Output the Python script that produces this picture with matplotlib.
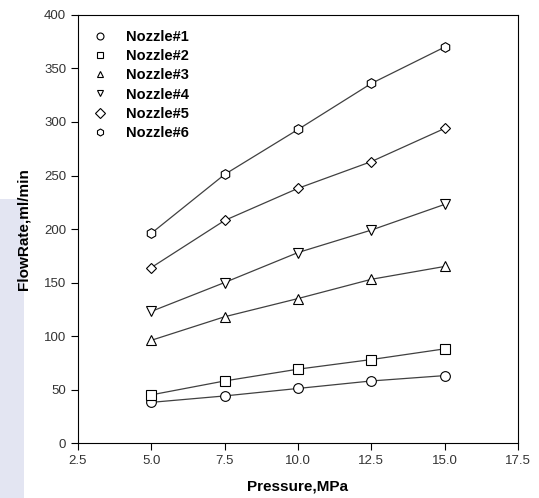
import matplotlib
matplotlib.use('Agg')
import matplotlib.pyplot as plt
from matplotlib.patches import Rectangle

plt.rcParams['font.family'] = ['Liberation Sans', 'DejaVu Sans']

# data
pressure = [5.0, 7.5, 10.0, 12.5, 15.0]
nozzle1 = [38, 44, 51, 58, 63]
nozzle2 = [45, 58, 69, 78, 88]
nozzle3 = [96, 118, 135, 153, 165]
nozzle4 = [123, 150, 178, 199, 223]
nozzle5 = [164, 208, 238, 263, 294]
nozzle6 = [196, 251, 293, 336, 370]
labels = ['Nozzle#1', 'Nozzle#2', 'Nozzle#3', 'Nozzle#4', 'Nozzle#5', 'Nozzle#6']
markers = ['o', 's', '^', 'v', 'D', 'h']
xticks = [2.5, 5.0, 7.5, 10.0, 12.5, 15.0, 17.5]
yticks = [0, 50, 100, 150, 200, 250, 300, 350, 400]

fig = plt.figure(figsize=(5.39, 4.98), dpi=100)

# faint watermark strip on the left edge
fig.patches.append(Rectangle((0, 0), 0.045, 0.6, transform=fig.transFigure,
                             facecolor='#e3e5f2', edgecolor='none', zorder=-1))

ax = fig.add_axes([0.1447, 0.1104, 0.8163, 0.8595])
ax.patch.set_alpha(0)

series = [nozzle1, nozzle2, nozzle3, nozzle4, nozzle5, nozzle6]
for ys, lab, m in zip(series, labels, markers):
    ms = 5.5 if m == 'D' else 7
    ax.plot(pressure, ys, color='#404040', lw=0.9, marker=m, ms=ms,
            mfc='white', mec='black', mew=0.8, label=lab)

ax.set_xlim(2.5, 17.5)
ax.set_ylim(0, 400)
ax.set_xticks(xticks)
ax.set_xticklabels(['%.1f' % v for v in xticks])
ax.set_yticks(yticks)
ax.tick_params(direction='out', length=5, width=0.8, labelsize=9.5,
               labelcolor='#333333', top=False, right=False)
for s in ax.spines.values():
    s.set_linewidth(0.8)

ax.set_xlabel('Pressure,MPa', fontsize=11, fontweight='bold', labelpad=9)
ax.set_ylabel('FlowRate,ml/min', fontsize=11, fontweight='bold', labelpad=10)

leg = ax.legend(loc='upper left', frameon=False, prop={'weight': 'bold', 'size': 10.5},
                handlelength=0, handletextpad=1.8, labelspacing=0.35,
                bbox_to_anchor=(0.02, 0.995))
for h in leg.legend_handles:
    h.set_markersize(5)

fig.savefig('out.png', dpi=100)
